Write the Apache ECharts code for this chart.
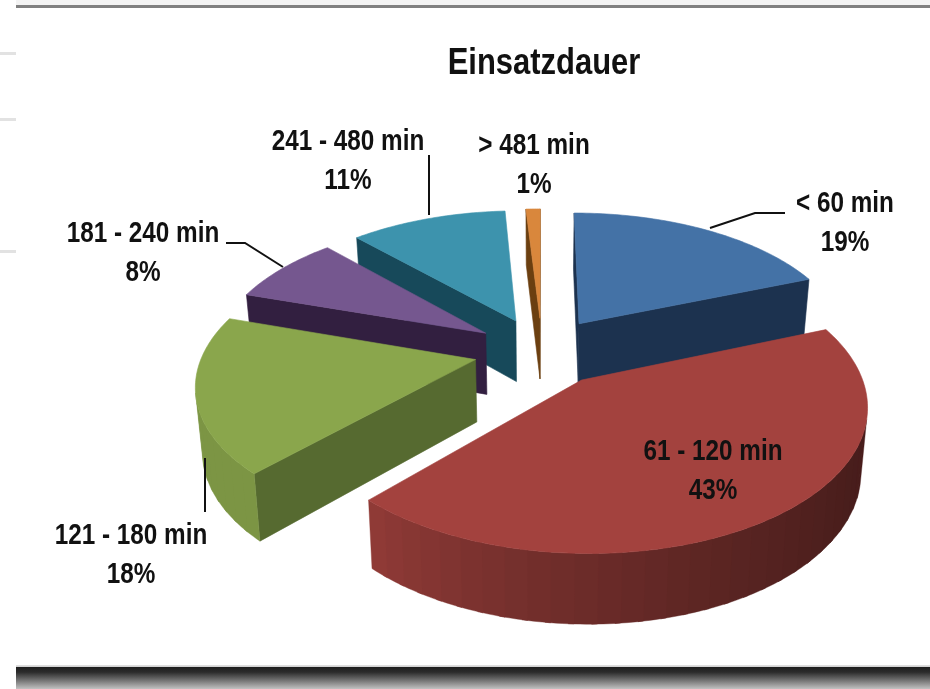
<!DOCTYPE html>
<html lang="de">
<head>
    <meta charset="UTF-8">
    <title>Einsatzdauer</title>
    <script src="https://cdn.jsdelivr.net/npm/echarts@6/dist/echarts.min.js"></script>
    <style>
        html, body { margin: 0; padding: 0; background: #fff; }
        #chart { width: 930px; height: 689px; filter: blur(0.4px); }
    </style>
</head>
<body>
<div id="chart"></div>
<script>
    var titleText = 'Einsatzdauer';
    var categories = ['< 60 min', '61 - 120 min', '121 - 180 min', '181 - 240 min', '241 - 480 min', '> 481 min'];
    var shares = [19, 43, 18, 8, 11, 1];

    var topColors = ['#4472a6', '#a3423e', '#8aa64c', '#75578f', '#3d93ad', '#d9873c'];
    var cutColors = ['#1c324f', '#5a2320', '#566a30', '#321f40', '#17495a', '#6b3f10'];
    var rimColors = ['#1c324f', '#a3423e', '#8aa64c', '#3a2548', '#17495a', '#6b3f10'];

    // label anchor and leader line for each slice
    var labelPlaces = [
        { x: 845, y: 184, line: [[710, 228], [755, 213], [785, 213]] },
        { x: 713, y: 432 },
        { x: 131, y: 516, line: [[205, 458], [205, 512]] },
        { x: 143, y: 214, line: [[226, 243], [245, 243], [283, 267]] },
        { x: 348, y: 122, line: [[429, 155], [429, 215]] },
        { x: 534, y: 126 }
    ];

    // the pie is a flat disc seen at a tilt, with a bit of perspective
    var view = { cx: 542, cy: 351, rx: 272, ry: 136, persp: 0.157, explode: 0.25, depth: 62 };

    var total = shares.reduce(function (a, b) { return a + b; }, 0);
    var slices = [];
    var acc = 0;
    shares.forEach(function (v, i) {
        var a0 = acc / total * Math.PI * 2;
        acc += v;
        var a1 = acc / total * Math.PI * 2;
        slices.push({ index: i, a0: a0, a1: a1, mid: (a0 + a1) / 2 });
    });

    function project(s, r, angle) {
        var X = r * Math.sin(angle) + view.explode * Math.sin(s.mid);
        var Y = r * Math.cos(angle) + view.explode * Math.cos(s.mid);
        var k = 1 / (1 + view.persp * Y);
        return { x: view.cx + view.rx * X * k, y: view.cy - view.ry * Y * k, k: k };
    }
    function lower(p) {
        return [view.cx + (p.x - view.cx) * 0.98, p.y + view.depth * (1 + 0.6 * (p.k - 1))];
    }
    function upper(p) { return [p.x, p.y]; }

    function signedArea(pts) {
        var area = 0;
        for (var i = 0; i < pts.length; i++) {
            var a = pts[i], b = pts[(i + 1) % pts.length];
            area += a[0] * b[1] - b[0] * a[1];
        }
        return area;
    }

    function shadeColor(hex, f) {
        var n = parseInt(hex.slice(1), 16);
        var r = Math.round((n >> 16) * f), g = Math.round(((n >> 8) & 255) * f), b = Math.round((n & 255) * f);
        return 'rgb(' + r + ',' + g + ',' + b + ')';
    }
    function rimShade(angle) {
        var deg = angle * 180 / Math.PI;
        var t = Math.max(0, Math.min(1, (deg - 110) / 115));
        return 0.44 + 0.46 * Math.pow(t, 1.5);
    }

    function poly(pts, color, width) {
        return { type: 'polygon', shape: { points: pts }, style: { fill: color, stroke: color, lineWidth: width || 0.6 } };
    }

    function renderSlice(params, api) {
        var s = slices[api.value(0)];
        var i = s.index;
        var steps = Math.max(2, Math.ceil((s.a1 - s.a0) * 14));
        var apex = project(s, 0, s.a0);
        var rim = [];
        var arcSteps = steps * 4;
        for (var n = 0; n <= arcSteps; n++) {
            rim.push(project(s, 1, s.a0 + (s.a1 - s.a0) * n / arcSteps));
        }
        var kids = [];
        // sides first, only the ones turned to the viewer
        var first = rim[0], last = rim[rim.length - 1];
        var startCut = [upper(apex), upper(first), lower(first), lower(apex)];
        var endCut = [upper(last), upper(apex), lower(apex), lower(last)];
        if (signedArea(startCut) < 0) kids.push(poly(startCut, cutColors[i]));
        if (signedArea(endCut) < 0) kids.push(poly(endCut, cutColors[i]));
        // rim wall in flat bands, each a little past the next so no seams show
        for (var m = 0; m < arcSteps; m += 4) {
            var end = Math.min(m + 5, arcSteps);
            var top = rim.slice(m, end + 1);
            var seg = top.map(upper).concat(top.slice().reverse().map(lower));
            var ang = s.a0 + (s.a1 - s.a0) * (m + 2) / arcSteps;
            if (signedArea(seg) < 0) kids.push(poly(seg, shadeColor(rimColors[i], rimShade(ang)), 0.4));
        }
        kids.push(poly([upper(apex)].concat(rim.map(upper)), topColors[i]));
        return { type: 'group', children: kids };
    }

    function renderLabel(params, api) {
        var i = api.value(0);
        var place = labelPlaces[i];
        var kids = [{
            type: 'text',
            x: place.x,
            y: place.y,
            scaleX: 0.81,
            style: {
                x: 0,
                y: 0,
                text: categories[i] + '\n' + shares[i] + '%',
                fill: '#111',
                font: 'bold 30px "Liberation Sans", sans-serif',
                lineHeight: 39,
                textAlign: 'center',
                textVerticalAlign: 'top'
            }
        }];
        if (place.line) {
            kids.push({
                type: 'polyline',
                shape: { points: place.line },
                style: { fill: null, stroke: '#111', lineWidth: 2 }
            });
        }
        return { type: 'group', children: kids };
    }

    // far slices first so the near ones paint over them
    var drawOrder = slices.slice().sort(function (a, b) {
        return Math.cos(b.mid) - Math.cos(a.mid);
    }).map(function (s) { return [s.index, shares[s.index]]; });

    var chart = echarts.init(document.getElementById('chart'));
    chart.setOption({
        animation: false,
        backgroundColor: '#fff',
        graphic: [
            { type: 'rect', shape: { x: 16, y: 0, width: 914, height: 5 }, style: { fill: '#f3f3f3' } },
            { type: 'rect', shape: { x: 16, y: 5, width: 914, height: 3 }, style: { fill: '#808080' } },
            { type: 'rect', shape: { x: 0, y: 52, width: 16, height: 3 }, style: { fill: '#e2e2e2' } },
            { type: 'rect', shape: { x: 0, y: 118, width: 16, height: 3 }, style: { fill: '#e2e2e2' } },
            { type: 'rect', shape: { x: 0, y: 250, width: 16, height: 3 }, style: { fill: '#e2e2e2' } },
            {
                type: 'rect',
                shape: { x: 16, y: 665, width: 914, height: 24 },
                style: {
                    fill: new echarts.graphic.LinearGradient(0, 0, 0, 1, [
                        { offset: 0, color: '#e4e4e4' },
                        { offset: 0.08, color: '#cfcfcf' },
                        { offset: 0.1, color: '#1f1f1f' },
                        { offset: 0.3, color: '#2c2c2c' },
                        { offset: 0.7, color: '#808080' },
                        { offset: 1, color: '#c2c2c2' }
                    ])
                }
            },
            {
                type: 'text',
                x: 544,
                y: 64,
                scaleX: 0.86,
                style: {
                    text: titleText,
                    fill: '#111',
                    font: 'bold 36px "Liberation Sans", sans-serif',
                    textAlign: 'center',
                    textVerticalAlign: 'middle'
                }
            }
        ],
        series: [
            { type: 'custom', coordinateSystem: 'none', renderItem: renderSlice, data: drawOrder, silent: true, z: 2 },
            {
                type: 'custom',
                coordinateSystem: 'none',
                renderItem: renderLabel,
                data: shares.map(function (v, i) { return [i, v]; }),
                silent: true,
                z: 3
            }
        ]
    });
</script>
</body>
</html>
